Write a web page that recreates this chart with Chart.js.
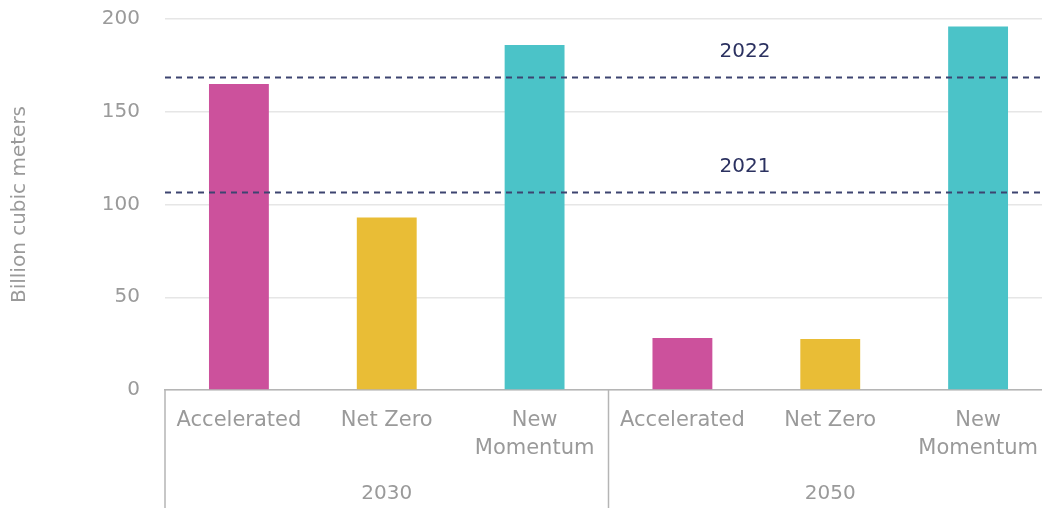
<!DOCTYPE html>
<html>
<head>
<meta charset="utf-8">
<script src="https://cdn.jsdelivr.net/npm/chart.js@4.4.1/dist/chart.umd.min.js"></script>
<style>
  html, body { margin: 0; padding: 0; background: #fff; overflow: hidden; }
  #wrap { width: 1052px; height: 508px; position: relative; }
</style>
</head>
<body>
<div id="wrap"><canvas id="c"></canvas></div>
<script>
// ---- data ----
const years = ['2030', '2050'];
const scenarios = [['Accelerated'], ['Net Zero'], ['New', 'Momentum']];
const values2030 = [165, 93, 186];
const values2050 = [28, 27.5, 196];
const scenarioColors = ['#cc519c', '#e9bd36', '#4bc3c8'];
const refValues = [107, 168.5];
const refLabels = ['2021', '2022'];
const yTicks = [0, 50, 100, 150, 200];
const yTitle = 'Billion cubic meters';

const labels = [...scenarios, ...scenarios];
const values = [...values2030, ...values2050];
const colors = [...scenarioColors, ...scenarioColors];

const FONT = '"DejaVu Sans", sans-serif';
const GRAY = '#9a9a9a';
const NAVY = '#2b3160';

const overlay = {
  id: 'overlay',
  afterDatasetsDraw(chart) {
    const { ctx, chartArea, scales } = chart;
    const x = scales.x, y = scales.y;
    ctx.save();
    // reference lines
    ctx.strokeStyle = '#3d4470';
    ctx.lineWidth = 2;
    ctx.setLineDash([6, 5]);
    refValues.forEach((v, i) => {
      const py = Math.round(y.getPixelForValue(v)) + 0.5;
      ctx.beginPath();
      ctx.moveTo(chartArea.left, py);
      ctx.lineTo(chartArea.right, py);
      ctx.stroke();
      ctx.fillStyle = NAVY;
      ctx.font = '20px ' + FONT;
      ctx.textAlign = 'center';
      ctx.textBaseline = 'middle';
      ctx.fillText(refLabels[i], 745, py - 26);
    });
    ctx.setLineDash([]);
    // group separators and labels
    const n = scenarios.length;
    const step = (x.right - x.left) / labels.length;
    ctx.strokeStyle = '#b5b5b5';
    ctx.lineWidth = 1.5;
    for (let g = 0; g < years.length; g++) {
      const gx = x.left + g * n * step;
      ctx.beginPath();
      ctx.moveTo(gx, chartArea.bottom);
      ctx.lineTo(gx, chart.height);
      ctx.stroke();
      ctx.fillStyle = GRAY;
      ctx.font = '20px ' + FONT;
      ctx.textAlign = 'center';
      ctx.textBaseline = 'middle';
      ctx.fillText(years[g], gx + n * step / 2, 494);
    }
    ctx.restore();
  }
};

new Chart(document.getElementById('c'), {
  type: 'bar',
  data: {
    labels: labels,
    datasets: [{
      data: values,
      backgroundColor: colors,
      borderWidth: 0,
      barPercentage: 0.405,
      categoryPercentage: 1.0
    }]
  },
  options: {
    responsive: true,
    maintainAspectRatio: false,
    animation: false,
    layout: { padding: { top: 19, right: 0, left: 0, bottom: 0 } },
    plugins: { legend: { display: false }, tooltip: { enabled: false } },
    scales: {
      x: {
        grid: { display: false, drawTicks: false },
        border: { display: true, color: '#b5b5b5', width: 1.5 },
        ticks: {
          color: GRAY,
          font: { family: FONT, size: 21, lineHeight: 1.33 },
          padding: 17,
          maxRotation: 0,
          autoSkip: false
        },
        afterFit(s) { s.height = 118; s.paddingLeft = 0; s.paddingRight = 0; }
      },
      y: {
        min: 0, max: 200,
        afterBuildTicks(s) { s.ticks = yTicks.map(v => ({ value: v })); },
        grid: { color: '#e6e6e6', lineWidth: 1.5, drawTicks: false },
        border: { display: false },
        ticks: {
          color: GRAY,
          font: { family: FONT, size: 20 },
          padding: 25
        },
        title: {
          display: true,
          text: yTitle,
          color: GRAY,
          font: { family: FONT, size: 20 },
          padding: { top: 8, bottom: 0 }
        },
        afterFit(s) { s.width = 165; s.paddingTop = 12; s.paddingBottom = 12; }
      }
    }
  },
  plugins: [overlay]
});
</script>
</body>
</html>
